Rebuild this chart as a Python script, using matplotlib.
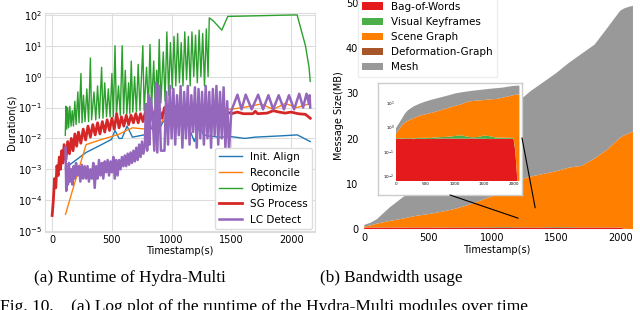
import matplotlib
matplotlib.use('Agg')
import matplotlib.pyplot as plt
from matplotlib.patches import ConnectionPatch

# ── (a) module runtimes, seconds ─────────────────────────
align_t = [110, 200, 284, 384, 497, 526, 560, 584, 627, 672, 770, 811, 870, 930, 990,
           1050, 1100, 1150, 1190, 1230, 1270, 1303, 1400, 1491, 1612, 1700, 1800, 1900, 2052, 2160]
align_s = [1.1e-3, 2e-3, 3.5e-3, 5.5e-3, 9.3e-3, 1.8e-2, 1e-2, 1e-2, 2.5e-2, 1.1e-2, 1.3e-2, 2.8e-2, 1.3e-2, 3.5e-2, 5e-2,
           3.2e-2, 5e-2, 2e-2, 7.9e-3, 2.5e-2, 1.3e-2, 1.2e-2, 1.1e-2, 1.15e-2, 1e-2, 1.1e-2, 1.15e-2, 1.2e-2, 1.3e-2, 7.9e-3]

reconcile_t = [112, 172, 230, 284, 400, 557, 620, 672, 784, 850, 904, 962, 1034,
               1100, 1150, 1200, 1260, 1320, 1400, 1491, 1600, 1750, 1850, 1950, 2050, 2160]
reconcile_s = [3.5e-5, 2.2e-4, 1.26e-3, 6.3e-3, 8.9e-3, 1.35e-2, 1.8e-2, 2.2e-2, 2e-2, 2.8e-2, 2.8e-2, 6.3e-2, 8.5e-2,
               0.11, 8.9e-2, 0.13, 8.9e-2, 0.11, 0.1, 8.7e-2, 0.1, 0.13, 8.7e-2, 0.135, 0.1, 0.135]

optimize_t = [110, 115, 122, 130, 138, 148, 158, 168, 178, 190,
              200, 215, 225, 241, 250, 262, 275, 290, 305, 320,
              330, 350, 365, 380, 395, 414, 425, 440, 455, 470,
              485, 500, 512, 526, 538, 555, 570, 586, 598, 612,
              625, 640, 650, 662, 675, 690, 705, 720, 735, 759,
              770, 790, 805, 819, 832, 850, 862, 875, 885, 896,
              910, 930, 945, 960, 975, 990, 1005, 1020, 1035, 1050,
              1065, 1080, 1095, 1110, 1125, 1140, 1155, 1170, 1185, 1200,
              1215, 1230, 1245, 1260, 1275, 1290, 1305, 1315, 1350, 1420,
              1470, 1700, 2050, 2120, 2150, 2160]
optimize_s = [1.26e-2, 0.11, 2e-2, 0.1, 2.2e-2, 0.11, 2.5e-2, 7.9e-2, 2.5e-2, 0.16,
              2.8e-2, 0.32, 3.2e-2, 1.26, 3.2e-2, 0.25, 3.5e-2, 0.4, 3.5e-2, 4.0,
              4e-2, 0.32, 4e-2, 0.5, 4.5e-2, 2.0, 4.5e-2, 0.63, 5e-2, 0.4,
              5e-2, 1.26, 5e-2, 10, 5.6e-2, 0.5, 5.6e-2, 10, 6.3e-2, 1.6,
              6.3e-2, 0.63, 6.3e-2, 3.2, 7.1e-2, 1.0, 7.1e-2, 2.5, 7.9e-2, 10,
              7.9e-2, 2.0, 8.9e-2, 11, 0.1, 3.2, 0.1, 1.6, 0.13, 16,
              0.14, 6.3, 0.16, 28, 0.25, 12.6, 0.4, 20, 0.5, 25,
              0.63, 12.6, 0.5, 28, 0.79, 20, 0.5, 28, 1.0, 22,
              0.63, 32, 1.0, 25, 0.5, 35, 1.0, 80, 63, 32,
              89, 93, 100, 10, 2.0, 0.7]

sg_t = [0, 10, 20, 30, 40, 50, 60, 70, 80, 90,
        100, 115, 130, 145, 160, 175, 190, 205, 220, 240,
        260, 280, 300, 320, 340, 360, 380, 400, 420, 440,
        460, 480, 500, 520, 540, 560, 580, 600, 620, 640,
        660, 680, 700, 720, 740, 760, 780, 800, 820, 840,
        860, 880, 900, 920, 940, 960, 980, 1000, 1040, 1080,
        1120, 1160, 1200, 1240, 1280, 1320, 1360, 1400, 1440, 1500,
        1550, 1600, 1680, 1700, 1720, 1800, 1850, 1900, 1950, 2000,
        2060, 2120, 2160]
sg_s = [3.2e-5, 1e-4, 5e-4, 2.5e-4, 1.3e-3, 6.3e-4, 2.5e-3, 1e-3, 4e-3, 1.6e-3,
        6.3e-3, 2e-3, 7.9e-3, 3.2e-3, 1e-2, 4e-3, 1.4e-2, 5.6e-3, 1.6e-2, 7e-3,
        2e-2, 8.9e-3, 2.5e-2, 1.1e-2, 2.8e-2, 1.3e-2, 3.2e-2, 1.4e-2, 3.5e-2, 1.6e-2,
        4e-2, 1.8e-2, 4.5e-2, 2e-2, 6.3e-2, 2.2e-2, 5e-2, 2.5e-2, 5.6e-2, 2.8e-2,
        5.6e-2, 3.2e-2, 6.3e-2, 3.2e-2, 6.3e-2, 3.5e-2, 7.1e-2, 3.5e-2, 7.1e-2, 4e-2,
        7.9e-2, 4.5e-2, 7.9e-2, 4.5e-2, 0.1, 5e-2, 0.1, 5.6e-2, 0.11, 6.3e-2,
        0.11, 6.3e-2, 0.1, 5.6e-2, 0.1, 6.3e-2, 8.9e-2, 6.3e-2, 7.9e-2, 6.3e-2,
        7.1e-2, 6.3e-2, 6.3e-2, 7.6e-2, 6.3e-2, 6.6e-2, 7.9e-2, 7.1e-2, 6.6e-2, 7.1e-2,
        6.3e-2, 6e-2, 4.5e-2]

lc_t = [112, 118, 125, 132, 140, 150, 160, 170, 180, 190,
        200, 212, 224, 236, 248, 260, 272, 284, 296, 308,
        320, 332, 344, 356, 368, 380, 392, 404, 416, 428,
        440, 452, 464, 476, 488, 500, 512, 524, 536, 548,
        560, 572, 584, 596, 608, 620, 632, 644, 656, 668,
        680, 692, 704, 716, 728, 740, 752, 764, 776, 785,
        795, 805, 815, 825, 840, 855, 870, 880, 895, 910,
        925, 940, 955, 970, 985, 1000, 1015, 1030, 1045, 1060,
        1075, 1090, 1105, 1120, 1135, 1150, 1165, 1180, 1195, 1210,
        1225, 1240, 1255, 1270, 1285, 1300, 1315, 1330, 1345, 1360,
        1375, 1390, 1405, 1420, 1435, 1450, 1465, 1480, 1500, 1551,
        1585, 1620, 1670, 1724, 1765, 1810, 1850, 1896, 1940, 1982,
        2025, 2068, 2100, 2129, 2150, 2155, 2160]
lc_s = [5e-3, 2e-4, 1e-3, 3.2e-4, 1.6e-3, 4e-4, 1e-3, 3.2e-4, 1.26e-3, 5e-4,
        1.6e-3, 6.3e-4, 1.26e-3, 4e-4, 1.4e-3, 5e-4, 1.26e-3, 5e-4, 1.26e-3, 4e-4,
        1e-3, 5e-4, 1.6e-3, 2.5e-4, 1.26e-3, 5e-4, 2e-3, 6.3e-4, 1.6e-3, 5e-4,
        1.8e-3, 8e-4, 2e-3, 6.3e-4, 1.8e-3, 8e-4, 2.5e-3, 5e-4, 2e-3, 6.3e-4,
        2e-3, 1e-3, 2.5e-3, 1.26e-3, 2.8e-3, 1.26e-3, 3.2e-3, 1.4e-3, 3.5e-3, 1.6e-3,
        4e-3, 1.8e-3, 5e-3, 2e-3, 6.3e-3, 2.5e-3, 7.9e-3, 3.2e-3, 6.3e-3, 0.13,
        4e-3, 0.25, 6.3e-3, 0.2, 6.3e-2, 4e-3, 0.63, 3.5e-3, 0.5, 4e-3,
        4e-3, 4e-3, 0.32, 6.3e-3, 0.5, 1e-2, 0.4, 6.3e-3, 0.25, 1.26e-2,
        0.5, 5e-3, 0.32, 1e-2, 0.5, 6.3e-3, 0.25, 1.6e-2, 0.45, 5e-3,
        0.4, 1e-2, 0.32, 6.3e-3, 0.5, 1e-2, 0.32, 5e-3, 0.4, 1.26e-2,
        0.5, 6.3e-3, 0.32, 1e-2, 0.45, 5e-3, 0.16, 4e-3, 7.9e-2, 0.26,
        8.7e-2, 0.26, 8.7e-2, 0.26, 8.7e-2, 0.25, 8.7e-2, 0.25, 8.7e-2, 0.25,
        8.7e-2, 0.28, 0.1, 0.28, 0.13, 0.25, 0.1]

# ── (b) bandwidth per message type, MB ───────────────────
bw_t = [0, 50, 100, 150, 200, 300, 400, 500, 600, 700, 800, 900, 1000, 1100,
        1200, 1250, 1300, 1400, 1500, 1600, 1700, 1800, 1900, 2000, 2030, 2060, 2100]
bow_mb = [0.33, 0.33, 0.32, 0.33, 0.33, 0.32, 0.33, 0.33, 0.32, 0.33, 0.34, 0.34, 0.33, 0.34,
          0.33, 0.34, 0.34, 0.33, 0.33, 0.32, 0.33, 0.33, 0.33, 0.33, 0.1, 0.01, 0.0]
keyframe_mb = [0.02, 0.02, 0.02, 0.02, 0.02, 0.02, 0.03, 0.03, 0.04, 0.05, 0.05, 0.06, 0.1, 0.12,
               0.08, 0.05, 0.04, 0.06, 0.12, 0.1, 0.04, 0.04, 0.03, 0.03, 0.01, 0.0, 0.0]
scene_mb = [0.19, 0.44, 0.84, 1.14, 1.44, 1.94, 2.53, 2.93, 3.42, 4.01, 4.81, 5.8, 6.86, 7.94,
            9.88, 10.81, 11.22, 11.8, 12.34, 13.16, 13.62, 15.22, 17.23, 19.83, 20.58, 21.08, 21.59]
dgraph_mb = [0.01, 0.01, 0.01, 0.01, 0.01, 0.01, 0.01, 0.01, 0.01, 0.01, 0.01, 0.01, 0.01, 0.01,
             0.01, 0.01, 0.01, 0.01, 0.01, 0.01, 0.01, 0.01, 0.01, 0.01, 0.01, 0.01, 0.01]
mesh_mb = [0.35, 0.6, 1.0, 2.0, 3.0, 4.7, 6.1, 7.7, 9.2, 10.6, 12.1, 13.8, 16.2, 17.6,
           18.0, 18.1, 18.9, 20.3, 21.7, 23.2, 24.8, 25.2, 26.9, 28.1, 28.1, 28.0, 27.8]

BW_LABELS = ['Bag-of-Words', 'Visual Keyframes', 'Scene Graph', 'Deformation-Graph', 'Mesh']
BW_COLORS = ['#e41a1c', '#4daf4a', '#ff7f00', '#a65628', '#999999']

plt.rcParams.update({
    'font.family': 'DejaVu Sans',
    'font.size': 7,
    'axes.edgecolor': '#dddddd',
    'xtick.major.size': 0,
    'ytick.major.size': 0,
    'xtick.minor.size': 0,
    'ytick.minor.size': 0,
    'xtick.major.pad': 2,
    'ytick.major.pad': 2,
    'axes.labelpad': 1,
})

fig = plt.figure(figsize=(6.4, 3.1), dpi=100)

# ── (a) runtime ─────────────────────────────────────────
ax = fig.add_axes([0.0703, 0.2516, 0.4219, 0.7065])
ax.plot(align_t, align_s, color='#1f77b4', lw=1.0, label='Init. Align')
ax.plot(reconcile_t, reconcile_s, color='#ff7f0e', lw=1.0, label='Reconcile')
ax.plot(optimize_t, optimize_s, color='#2ca02c', lw=1.0, label='Optimize')
ax.plot(sg_t, sg_s, color='#d62728', lw=2.0, label='SG Process')
ax.plot(lc_t, lc_s, color='#9467bd', lw=1.8, label='LC Detect')
ax.set_yscale('log')
ax.set_ylim(10 ** -5.03, 10 ** 2.06)
ax.set_xlim(-60, 2200)
ax.set_xticks([0, 500, 1000, 1500, 2000])
ax.set_yticks([1e-5, 1e-4, 1e-3, 1e-2, 1e-1, 1e0, 1e1, 1e2])
ax.grid(True, color='#dddddd', lw=0.8)
ax.set_axisbelow(True)
ax.set_xlabel('Timestamp(s)')
ax.set_ylabel('Duration(s)')
ax.legend(loc='lower right', bbox_to_anchor=(1.0, 0.0), borderaxespad=0.3, fontsize=7.5,
          handlelength=2.2, labelspacing=0.55, fancybox=True, framealpha=1, edgecolor='#dddddd')

# ── (b) bandwidth ───────────────────────────────────────
bx = fig.add_axes([0.564, 0.2568, 0.425, 0.7406])
bx.stackplot(bw_t, bow_mb, keyframe_mb, scene_mb, dgraph_mb, mesh_mb,
             labels=BW_LABELS, colors=BW_COLORS, lw=0)
bx.set_xlim(-25, 2100)
bx.set_ylim(-0.3, 50.5)
bx.set_xticks([0, 500, 1000, 1500, 2000])
bx.set_yticks([0, 10, 20, 30, 40, 50])
for s in bx.spines.values():
    s.set_visible(False)
bx.set_xlabel('Timestamp(s)')
bx.set_ylabel('Message Size(MB)')
bx.legend(loc='upper left', bbox_to_anchor=(0.551, 1.025), bbox_transform=fig.transFigure,
          fontsize=7.5, handlelength=2.0, labelspacing=0.5, fancybox=False,
          framealpha=1, edgecolor='#eeeeee')

# inset: same data on a log axis
frame = fig.add_axes([378 / 640, 1 - 195 / 310, 144 / 640, 112 / 310])
frame.set_xticks([])
frame.set_yticks([])
for s in frame.spines.values():
    s.set_color('#cccccc')
    s.set_linewidth(1.0)

ins = fig.add_axes([396 / 640, 1 - 181 / 310, 124 / 640, 96 / 310])
ins.stackplot(bw_t, bow_mb, keyframe_mb, scene_mb, dgraph_mb, mesh_mb, colors=BW_COLORS, lw=0)
ins.set_yscale('log')
ins.set_ylim(10 ** -2.21, 10 ** 1.72)
ins.set_xlim(0, 2110)
ins.set_xticks([0, 500, 1000, 1500, 2000])
ins.set_yticks([1e-2, 1e-1, 1e0, 1e1])
ins.minorticks_off()
ins.tick_params(labelsize=3, pad=1)
ins.set_facecolor('none')
for s in ins.spines.values():
    s.set_visible(False)

for xy_a, xy_b in [((0.5, 0.0), (1203, 2.4)), ((1.0, 0.51), (1336, 4.7))]:
    con = ConnectionPatch(xyA=xy_a, coordsA=frame.transAxes, xyB=xy_b, coordsB=bx.transData,
                          color='black', lw=0.8)
    fig.add_artist(con)

# ── captions ────────────────────────────────────────────
serif = ['Liberation Serif', 'DejaVu Serif']
fig.text(130 / 640, 1 - 278 / 310, '(a) Runtime of Hydra-Multi', family=serif, fontsize=12.3,
         ha='center', va='center')
fig.text(391 / 640, 1 - 278 / 310, '(b) Bandwidth usage', family=serif, fontsize=12.3,
         ha='center', va='center')
fig.text(0.0, 1 - 299 / 310, 'Fig. 10.    (a) Log plot of the runtime of the Hydra-Multi modules over time',
         family=serif, fontsize=12.5, ha='left', va='top')

fig.savefig('out.png', dpi=100)
plt.close(fig)
